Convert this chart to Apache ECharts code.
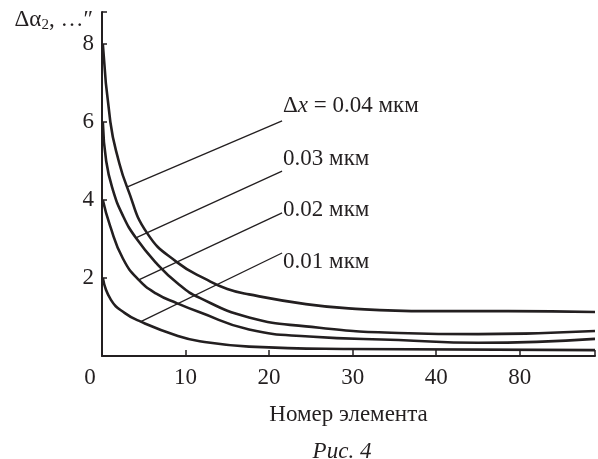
<!DOCTYPE html>
<html>
<head>
<meta charset="utf-8">
<script src="https://cdn.jsdelivr.net/npm/echarts@6/dist/echarts.min.js"></script>
<style>
html,body{margin:0;padding:0;background:#fff;}
#chart{width:598px;height:459px;}
</style>
</head>
<body>
<div id="chart"></div>
<script>
// кривые, [номер элемента, значение]
var curve04 = [[0.1,8.0],[1,6.0],[2,5.0],[3,4.33],[5.4,3.15],[9,2.4],[12.6,1.95],[15,1.72],[17.6,1.58],[24.4,1.33],[29.5,1.22],[39,1.15],[48.6,1.15],[59,1.13]];
var curve03 = [[0.1,6.0],[0.5,5.0],[1.3,4.26],[2.5,3.6],[4.05,3.03],[6.5,2.38],[9,1.87],[11.7,1.49],[17.6,0.99],[24.4,0.76],[35.5,0.59],[45,0.56],[59,0.64]];
var curve02 = [[0.1,4.0],[0.95,3.35],[2.5,2.5],[4.4,1.95],[6.5,1.6],[9,1.35],[11.7,1.12],[17.6,0.68],[24.8,0.5],[35.5,0.41],[45,0.34],[59,0.44]];
var curve01 = [[0.1,2.0],[1.07,1.44],[2.74,1.1],[4.64,0.88],[9,0.52],[11.7,0.38],[17.6,0.24],[29.5,0.18],[59,0.15]];

// выноски: от кривой к подписи
var leader04 = [[2.98,4.33],[21.55,6.03]];
var leader03 = [[4.05,3.03],[21.55,4.74]];
var leader02 = [[4.4,1.95],[21.55,3.67]];
var leader01 = [[4.64,0.88],[21.55,2.64]];
var leaderText = ['{n|Δ}{i|x}{n| = 0.04 мкм}', '{n|0.03 мкм}', '{n|0.02 мкм}', '{n|0.01 мкм}'];

var xTickLabels = {0:'0',10:'10',20:'20',30:'30',40:'40',50:'80'};
var yTickLabels = {2:'2',4:'4',6:'6',8:'8'};

var ink = '#231f20';
var font = 'Liberation Serif';
var fs = 23;

var dom = document.getElementById('chart');
var myChart = echarts.init(dom);

var curves = [curve04, curve03, curve02, curve01];
var leaders = [leader04, leader03, leader02, leader01];
var labelShift = [[0,-15],[0,-12],[0,-3],[0,9]];

var series = [];
for (var i = 0; i < curves.length; i++) {
	series.push({
		type:'line',
		data:curves[i],
		smooth:0.5,
		symbol:'none',
		lineStyle:{color:ink,width:2.6},
		z:3
	});
}
for (var j = 0; j < leaders.length; j++) {
	series.push({
		type:'line',
		symbol:'none',
		lineStyle:{color:ink,width:1.3},
		data:leaders[j],
		endLabel:{
			show:true,
			distance:1,
			offset:labelShift[j],
			formatter:leaderText[j],
			rich:{
				n:{fontFamily:font,fontSize:fs,color:ink},
				i:{fontFamily:font,fontSize:fs,color:ink,fontStyle:'italic'}
			}
		},
		z:2
	});
}

var option = {
	animation:false,
	backgroundColor:'#fff',
	title:{
		text:'Рис. 4',
		left:342,
		textAlign:'center',
		top:440,
		padding:0,
		textStyle:{fontFamily:font,fontSize:fs,fontStyle:'italic',fontWeight:'normal',color:ink}
	},
	grid:{left:102,right:0,top:12,bottom:103,containLabel:false},
	xAxis:{
		type:'value',
		min:0,
		max:59,
		interval:10,
		name:'Номер элемента',
		nameLocation:'middle',
		nameGap:47,
		nameTextStyle:{fontFamily:font,fontSize:fs,color:ink},
		axisLine:{lineStyle:{color:ink,width:2}},
		axisTick:{inside:true,length:6,lineStyle:{color:ink,width:1.5}},
		axisLabel:{
			margin:10,
			fontFamily:font,
			fontSize:fs,
			color:ink,
			formatter:function(v){
				if (v === 0) return '{z|0}';
				return xTickLabels[v] || '';
			},
			rich:{z:{fontFamily:font,fontSize:fs,color:ink,padding:[0,24,0,0]}}
		},
		splitLine:{show:false}
	},
	yAxis:{
		type:'value',
		min:0,
		max:8.82,
		interval:2,
		name:'{a|Δα}{s|2}{a|, …″}',
		nameLocation:'end',
		nameGap:-21,
		nameTextStyle:{
			align:'right',
			padding:[0,9,0,0],
			rich:{
				a:{fontFamily:font,fontSize:fs,color:ink},
				s:{fontFamily:font,fontSize:15,color:ink,verticalAlign:'bottom',padding:[10,0,0,0]}
			}
		},
		axisLine:{show:true,lineStyle:{color:ink,width:2}},
		axisTick:{show:true,inside:true,length:5,lineStyle:{color:ink,width:1.5}},
		axisLabel:{
			margin:8,
			fontFamily:font,
			fontSize:fs,
			color:ink,
			formatter:function(v){ return yTickLabels[v] || ''; }
		},
		splitLine:{show:false}
	},
	series:series
};

myChart.setOption(option);
window.addEventListener('resize',function(){
	myChart.resize();
});
</script>
</body>
</html>
